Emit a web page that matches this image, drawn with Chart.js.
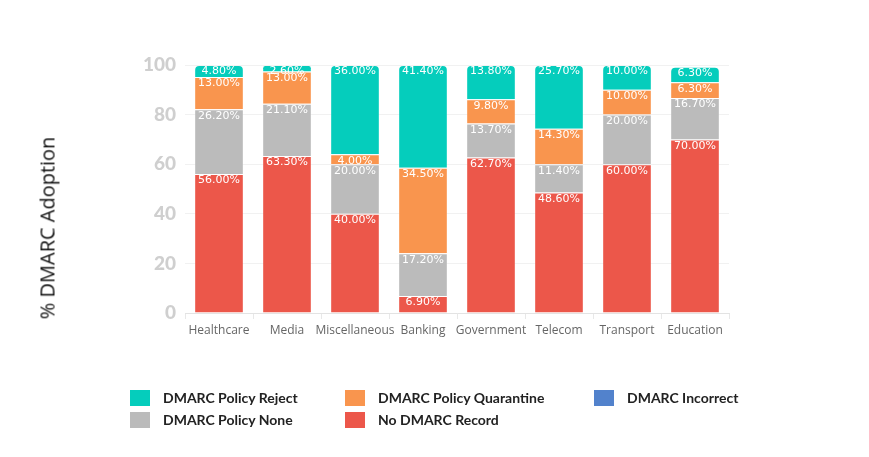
<!DOCTYPE html>
<html>
<head>
<meta charset="utf-8">
<script src="https://cdn.jsdelivr.net/npm/chart.js@4.4.0/dist/chart.umd.min.js"></script>
<style>
  html, body { margin: 0; padding: 0; background: #fff; }
  #wrap { position: relative; width: 869px; height: 457px; }
  #yTitle {
    position: absolute; left: 47px; top: 228px;
    transform: translate(-50%, -50%) rotate(-90deg);
    font-family: "Open Sans", sans-serif; font-size: 20px; color: #111;
    white-space: nowrap;
  }
  .legend { position: absolute; left: 0; top: 0; font-family: Lato, sans-serif; font-weight: bold; font-size: 14px; color: #222; }
  .legend .item { position: absolute; white-space: nowrap; display: flex; align-items: center; }
  .legend .sw { width: 20px; height: 16px; display: inline-block; }
</style>
</head>
<body>
<div id="wrap">
  <canvas id="chart"></canvas>
  <div id="yTitle">% DMARC Adoption</div>
  <div class="legend" id="legend"></div>
</div>
<script>
const categories = ['Healthcare', 'Media', 'Miscellaneous', 'Banking', 'Government', 'Telecom', 'Transport', 'Education'];

const noRecord   = [56.0, 63.3, 40.0, 6.9, 62.7, 48.6, 60.0, 70.0];
const policyNone = [26.2, 21.1, 20.0, 17.2, 13.7, 11.4, 20.0, 16.7];
const quarantine = [13.0, 13.0, 4.0, 34.5, 9.8, 14.3, 10.0, 6.3];
const reject     = [4.8, 2.6, 36.0, 41.4, 13.8, 25.7, 10.0, 6.3];
const incorrect  = [0, 0, 0, 0, 0, 0, 0, 0];

const yTicks = [0, 20, 40, 60, 80, 100];

const cTeal = '#05CDBC';
const cOrange = '#F9954E';
const cGray = '#BBBBBB';
const cRed = '#EC574A';
const cBlue = '#5282CC';

// legend order as in the picture (3 columns, 2 rows)
const legendItems = [
  { label: 'DMARC Policy Reject', color: cTeal, x: 130, y: 397 },
  { label: 'DMARC Policy Quarantine', color: cOrange, x: 345, y: 397 },
  { label: 'DMARC Incorrect', color: cBlue, x: 594, y: 397 },
  { label: 'DMARC Policy None', color: cGray, x: 130, y: 419 },
  { label: 'No DMARC Record', color: cRed, x: 345, y: 419 }
];

const legendEl = document.getElementById('legend');
legendItems.forEach(it => {
  const d = document.createElement('div');
  d.className = 'item';
  d.style.left = it.x + 'px';
  d.style.top = (it.y - 8) + 'px';
  d.innerHTML = `<span class="sw" style="background:${it.color}"></span><span style="margin-left:13px">${it.label}</span>`;
  legendEl.appendChild(d);
});

const segLabels = {
  id: 'segLabels',
  afterDatasetsDraw(chart) {
    const ctx = chart.ctx;
    ctx.save();
    ctx.font = '11px "DejaVu Sans"';
    ctx.fillStyle = '#fff';
    ctx.textAlign = 'center';
    ctx.textBaseline = 'middle';
    chart.data.datasets.forEach((ds, i) => {
      const meta = chart.getDatasetMeta(i);
      meta.data.forEach((el, j) => {
        const v = ds.data[j];
        if (!v) return;
        ctx.fillText(v.toFixed(2) + '%', el.x, el.y + 6.5);
      });
    });
    ctx.restore();
  }
};

const segBorder = 'rgba(255,255,255,0.15)';

new Chart(document.getElementById('chart'), {
  type: 'bar',
  data: {
    labels: categories,
    datasets: [
      { label: 'No DMARC Record', data: noRecord, backgroundColor: cRed },
      { label: 'DMARC Policy None', data: policyNone, backgroundColor: cGray },
      { label: 'DMARC Policy Quarantine', data: quarantine, backgroundColor: cOrange },
      { label: 'DMARC Policy Reject', data: reject, backgroundColor: cTeal,
        borderRadius: { topLeft: 5, topRight: 5, bottomLeft: 0, bottomRight: 0 } },
      { label: 'DMARC Incorrect', data: incorrect, backgroundColor: cBlue }
    ].map(d => ({ borderWidth: 1, borderColor: segBorder, categoryPercentage: 1, barPercentage: 0.73, ...d }))
  },
  options: {
    responsive: true,
    maintainAspectRatio: false,
    animation: false,
    layout: { padding: { left: 0, right: 140, top: 65, bottom: 0 } },
    plugins: {
      legend: { display: false },
      tooltip: { enabled: false }
    },
    scales: {
      x: {
        stacked: true,
        grid: { drawOnChartArea: false, color: '#e8e8e8', tickLength: 6 },
        border: { color: '#e3e3e3' },
        ticks: { color: '#666', font: { family: 'Open Sans', size: 12 }, padding: 4, maxRotation: 0, autoSkip: false },
        afterFit: (s) => { s.height = 144; }
      },
      y: {
        stacked: true,
        min: 0,
        max: 100,
        afterBuildTicks: (s) => { s.ticks = yTicks.map(v => ({ value: v })); },
        grid: { color: '#f1f1f1', drawTicks: false },
        border: { display: false },
        ticks: { color: '#cfcfcf', font: { family: 'Lato', size: 19, weight: '900' }, padding: 9 },
        afterFit: (s) => { s.width = 185; }
      }
    }
  },
  plugins: [segLabels]
});
</script>
</body>
</html>
